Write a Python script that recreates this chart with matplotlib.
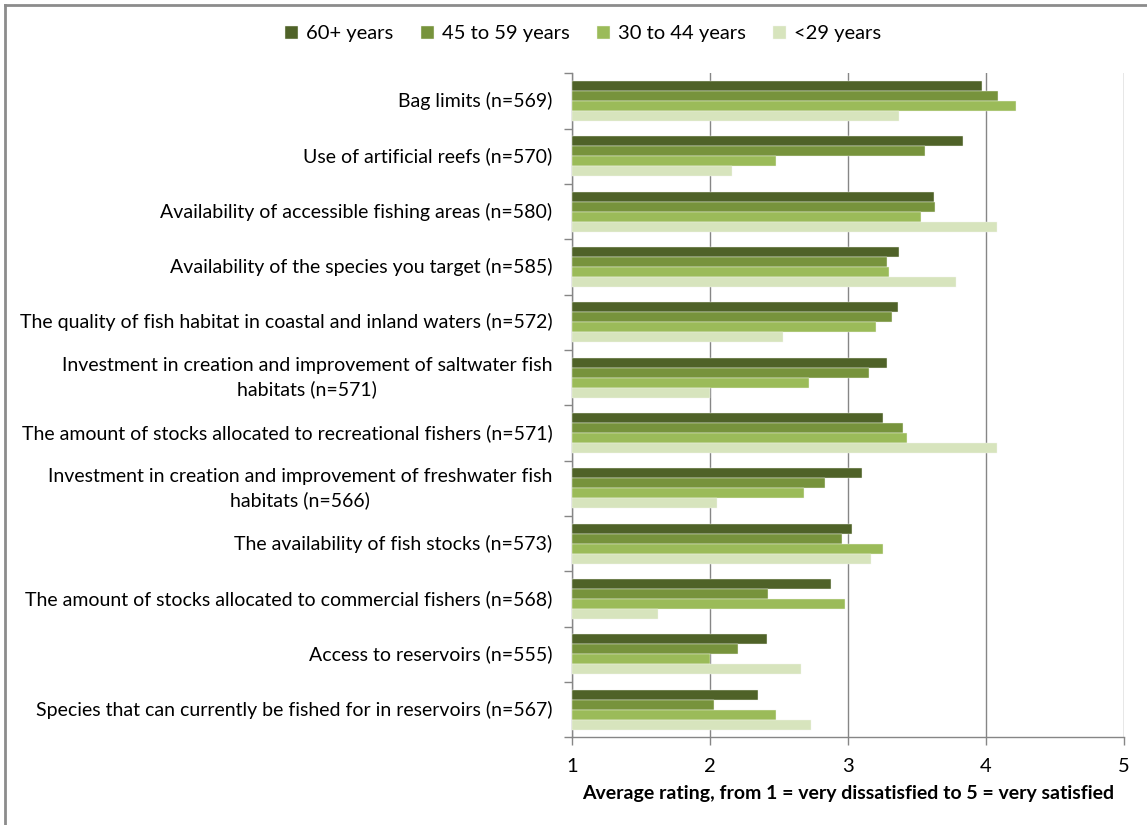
import numpy as np
import matplotlib.pyplot as plt
from matplotlib.lines import Line2D

plt.rcParams['font.family'] = ['Lato', 'DejaVu Sans']

# Survey items (top to bottom) and average rating by age group
items = [
    "Bag limits (n=569)",
    "Use of artificial reefs (n=570)",
    "Availability of accessible fishing areas (n=580)",
    "Availability of the species you target (n=585)",
    "The quality of fish habitat in coastal and inland waters (n=572)",
    "Investment in creation and improvement of saltwater fish\nhabitats (n=571)",
    "The amount of stocks allocated to recreational fishers (n=571)",
    "Investment in creation and improvement of freshwater fish\nhabitats (n=566)",
    "The availability of fish stocks (n=573)",
    "The amount of stocks allocated to commercial fishers (n=568)",
    "Access to reservoirs (n=555)",
    "Species that can currently be fished for in reservoirs (n=567)",
]
age_groups = ["60+ years", "45 to 59 years", "30 to 44 years", "<29 years"]
age_60_plus = [3.97, 3.83, 3.62, 3.37, 3.36, 3.28, 3.25, 3.10, 3.03, 2.88, 2.41, 2.35]
age_45_59 = [4.09, 3.56, 3.63, 3.28, 3.32, 3.15, 3.40, 2.83, 2.96, 2.42, 2.20, 2.03]
age_30_44 = [4.22, 2.48, 3.53, 3.30, 3.20, 2.72, 3.43, 2.68, 3.25, 2.98, 2.00, 2.48]
age_under_29 = [3.37, 2.16, 4.08, 3.78, 2.53, 2.00, 4.08, 2.05, 3.17, 1.62, 2.66, 2.73]
series = [age_60_plus, age_45_59, age_30_44, age_under_29]
colors = ["#4F6228", "#77933C", "#9BBB59", "#D7E4BD"]

fig = plt.figure(figsize=(11.47, 8.25), dpi=100)
ax = fig.add_axes([572 / 1147, 1 - 737.3 / 825, 552 / 1147, 664 / 825])

y = np.arange(len(items))
h = 0.18
base = 1.0
for i, (vals, col, name) in enumerate(zip(series, colors, age_groups)):
    ax.barh(y + (i - 1.5) * h, np.array(vals) - base, left=base, height=h,
            color=col, edgecolor="#F2F5EC", linewidth=0.3, label=name, zorder=3)

ax.set_xlim(1, 5)
ax.set_ylim(len(items) - 0.5, -0.5)
ax.set_xticks([1, 2, 3, 4, 5])
ax.tick_params(axis="x", labelsize=14.5, length=6, width=1, color="#868686",
               direction="out", pad=9)
ax.xaxis.grid(True, color="#868686", linewidth=1, zorder=0)

# category labels sit between the boundary ticks
ax.set_yticks(y)
ax.set_yticklabels(items, fontsize=14, ha="right", va="center",
                   multialignment="center", linespacing=1.4)
ax.tick_params(axis="y", length=0, pad=14)
ax.set_yticks(np.arange(len(items) + 1) - 0.5, minor=True)
ax.tick_params(axis="y", which="minor", length=6, width=1, color="#868686",
               direction="out")

for side in ("top", "right"):
    ax.spines[side].set_visible(False)
for side in ("left", "bottom"):
    ax.spines[side].set_color("#868686")
    ax.spines[side].set_linewidth(1)

ax.set_xlabel("Average rating, from 1 = very dissatisfied to 5 = very satisfied",
              fontsize=14, fontweight="bold", labelpad=7)

fig.legend(loc="center", bbox_to_anchor=(583 / 1147, 1 - 34 / 825), ncol=4,
           frameon=False, fontsize=14.5, handlelength=0.65, handleheight=0.65,
           handletextpad=0.4, columnspacing=1.35)

# frame edge along the left and top of the figure
fig.add_artist(Line2D([4.5 / 1147, 4.5 / 1147], [0, 1 - 4.5 / 825],
                      transform=fig.transFigure, color="#8C8C8C", lw=2))
fig.add_artist(Line2D([4.5 / 1147, 1], [1 - 4.5 / 825, 1 - 4.5 / 825],
                      transform=fig.transFigure, color="#8C8C8C", lw=2))

fig.savefig("out.png", dpi=100)
